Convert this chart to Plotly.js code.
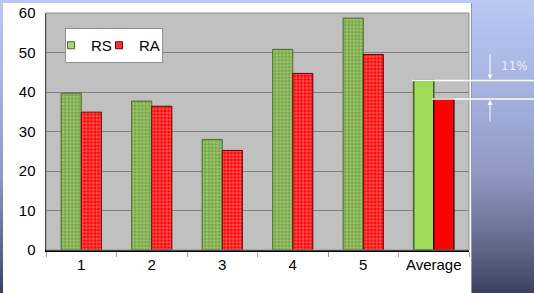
<!DOCTYPE html>
<html>
<head>
<meta charset="utf-8">
<script src="https://cdn.plot.ly/plotly-3.0.1.min.js"></script>
<style>
html,body{margin:0;padding:0;}
body{width:534px;height:293px;overflow:hidden;position:relative;
background:linear-gradient(to bottom,#bac8f4 0%,#a6b3e2 30%,#8e98c2 60%,#5f6688 85%,#3c4160 100%);}
#panel{position:absolute;left:3px;top:3px;width:468px;height:290px;background:#ffffff;border-right:1px solid #9098b8;}
#chart{position:absolute;left:0;top:0;width:534px;height:293px;}
</style>
</head>
<body>
<div id="panel"></div>
<div id="chart"></div>
<script>
const categories = ['1','2','3','4','5','Average'];
const rsValues = [39.7, 37.7, 28.0, 50.8, 58.7, 42.9];
const raValues = [34.9, 36.4, 25.2, 44.7, 49.5, 38.2];
const yTicks = [0,10,20,30,40,50,60];
const diffLabel = '11%';

const n = categories.length;
const avgIdx = n - 1;
function arr(fn){ return categories.map((c,i)=>fn(i)); }

const GREEN = '#98cc60', GREEN_FG = '#c2e49c', GREEN_AVG = '#9edc58';
const RED = '#ff0000', RED_FG = '#ff9a9a';

const rs = {
  type:'bar', name:'RS', x:categories, y:rsValues, showlegend:false,
  marker:{
    color: arr(i => i===avgIdx ? GREEN_AVG : GREEN),
    line:{color: arr(i => i===avgIdx ? '#3f5e22' : '#4a6a2e'), width: arr(i => i===avgIdx ? 1.5 : 1)},
    pattern:{shape: arr(i => i===avgIdx ? '' : '+'), fgcolor:GREEN_FG, fgopacity:0.7, size:3.5, solidity:0.25, fillmode:'overlay'}
  },
  hoverinfo:'skip'
};
const ra = {
  type:'bar', name:'RA', x:categories, y:raValues, showlegend:false,
  marker:{
    color: arr(i => RED),
    line:{color: arr(i => i===avgIdx ? '#3a0000' : '#6a0000'), width: arr(i => i===avgIdx ? 1.5 : 1)},
    pattern:{shape: arr(i => i===avgIdx ? '' : '+'), fgcolor:RED_FG, fgopacity:0.7, size:3.5, solidity:0.25, fillmode:'overlay'}
  },
  hoverinfo:'skip'
};
const rsKey = {type:'scatter', mode:'markers', name:'RS', x:[null], y:[null],
  marker:{symbol:'square', size:7, color:'#abd67a', line:{color:'#4a6a2e', width:1}}, hoverinfo:'skip'};
const raKey = {type:'scatter', mode:'markers', name:'RA', x:[null], y:[null],
  marker:{symbol:'square', size:7, color:'#ff3030', line:{color:'#6a0000', width:1}}, hoverinfo:'skip'};

const W = 534, H = 293, L = 46, R = 65, T = 13, B = 43;
const pw = W - L - R, ph = H - T - B;
function px2x(px){ return (px - L) / pw; }
function py2y(py){ return (H - B - py) / ph; }

const layout = {
  width: W, height: H,
  margin:{l:L, r:R, t:T, b:B, pad:0},
  paper_bgcolor:'rgba(0,0,0,0)',
  plot_bgcolor:'#c0c0c0',
  barmode:'group',
  bargap:0.43,
  bargroupgap:0,
  font:{family:'Liberation Sans, Arial, sans-serif', color:'#000', size:15},
  xaxis:{
    type:'category', showgrid:false, showline:true, linecolor:'#000', linewidth:1.5,
    ticks:'outside', tickson:'boundaries', ticklen:5, tickcolor:'#a0a0a0',
    tickfont:{size:15}, fixedrange:true
  },
  yaxis:{
    range:[0,60], tickvals:yTicks, showgrid:true, gridcolor:'#808080', gridwidth:1,
    showline:true, linecolor:'#000', linewidth:1.5, ticks:'', zeroline:false,
    tickfont:{size:15}, ticklabelstandoff:6, fixedrange:true
  },
  showlegend:true,
  legend:{
    orientation:'h', x:px2x(65), y:py2y(28), xanchor:'left', yanchor:'top',
    bgcolor:'#ffffff', bordercolor:'#909090', borderwidth:1,
    font:{size:15}, entrywidth:18, entrywidthmode:'pixels', indentation:-15,
    tracegroupgap:0
  },
  shapes:[
    {type:'rect', xref:'paper', yref:'paper', x0:0, x1:1, y0:0, y1:1, line:{color:'#909090', width:1}, fillcolor:'rgba(0,0,0,0)', layer:'above'},
    {type:'line', xref:'paper', yref:'y', x0:px2x(412), x1:px2x(534), y0:rsValues[avgIdx], y1:rsValues[avgIdx], line:{color:'#ffffff', width:1.5}, layer:'above'},
    {type:'line', xref:'paper', yref:'y', x0:px2x(432), x1:px2x(534), y0:raValues[avgIdx], y1:raValues[avgIdx], line:{color:'#ffffff', width:1.5}, layer:'above'}
  ],
  annotations:[
    {xref:'paper', yref:'y', x:px2x(490), y:rsValues[avgIdx], ax:0, ay:-28, axref:'pixel', ayref:'pixel',
     text:'', showarrow:true, arrowhead:2, arrowsize:1, arrowwidth:1, arrowcolor:'#ffffff', standoff:1},
    {xref:'paper', yref:'y', x:px2x(490), y:raValues[avgIdx], ax:0, ay:24, axref:'pixel', ayref:'pixel',
     text:'', showarrow:true, arrowhead:2, arrowsize:1, arrowwidth:1, arrowcolor:'#ffffff', standoff:1},
    {xref:'paper', yref:'paper', x:px2x(514), y:py2y(66), xanchor:'center', yanchor:'middle', text:diffLabel, showarrow:false,
     font:{size:12, color:'#eef0ff', family:'DejaVu Sans, sans-serif'}}
  ]
};

Plotly.newPlot('chart', [rs, ra, rsKey, raKey], layout, {displayModeBar:false, staticPlot:true});
</script>
</body>
</html>
